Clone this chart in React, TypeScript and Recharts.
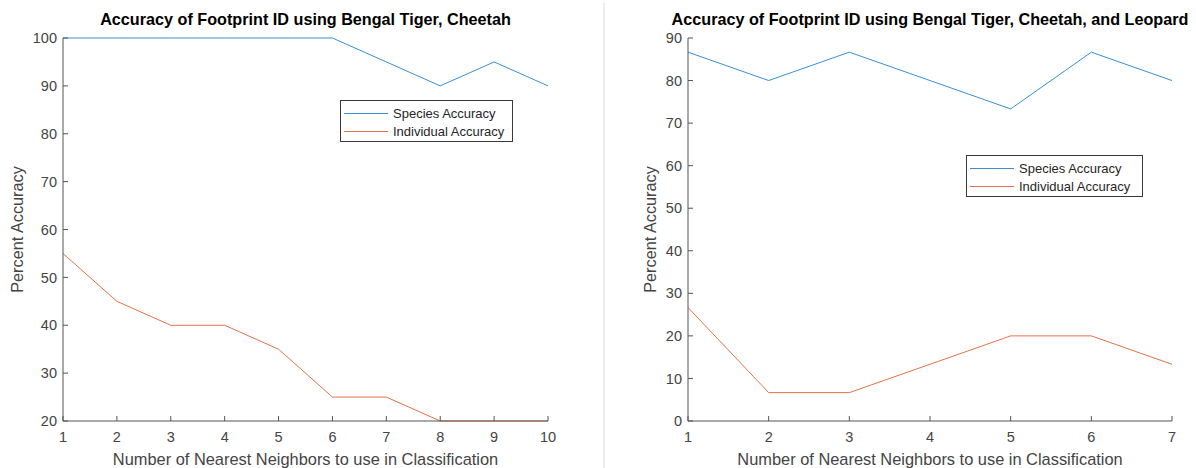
import { LineChart, Line, XAxis, YAxis } from 'recharts';

// left panel: Bengal Tiger + Cheetah
const neighborsLeft = [1, 2, 3, 4, 5, 6, 7, 8, 9, 10];
const speciesLeft = [100, 100, 100, 100, 100, 100, 95, 90, 95, 90];
const individualLeft = [55, 45, 40, 40, 35, 25, 25, 20, 20, 20];
const yTicksLeft = [20, 30, 40, 50, 60, 70, 80, 90, 100];

// right panel: Bengal Tiger + Cheetah + Leopard
const neighborsRight = [1, 2, 3, 4, 5, 6, 7];
const speciesRight = [86.67, 80, 86.67, 80, 73.33, 86.67, 80];
const individualRight = [26.67, 6.67, 6.67, 13.33, 20, 20, 13.33];
const yTicksRight = [0, 10, 20, 30, 40, 50, 60, 70, 80, 90];

const seriesNames = ['Species Accuracy', 'Individual Accuracy'];

const FONT = '"Liberation Sans", Arial, Helvetica, sans-serif';
const AXIS = '#555555';
const TEXT = '#444444';
const BLUE = '#3a8fd3';
const ORANGE = '#e5714a';

const xLabel = 'Number of Nearest Neighbors to use in Classification';
const yLabel = 'Percent Accuracy';

const W = 598;
const H = 468;
const PLOT_TOP = 38;
const PLOT_BOTTOM = 421;

type PanelProps = {
  title: string;
  x: number[];
  species: number[];
  individual: number[];
  yTicks: number[];
  marginLeft: number;
  marginRight: number;
  legendLeft: number;
  legendTop: number;
  legendWidth: number;
  yLabelX: number;
};

// MATLAB-style boxed legend, kept outside the chart so it doesn't shrink the plot
function LegendBox({ left, top, width }: { left: number; top: number; width: number }) {
  const colors = [BLUE, ORANGE];
  return (
    <svg style={{ position: 'absolute', left, top }} width={width} height={42}>
      <rect x={0.5} y={0.5} width={width - 1} height={41} fill="#fff" stroke="#3a3a3a" strokeWidth={1} />
      {seriesNames.map((name, i) => {
        const cy = 13 + i * 18;
        return (
          <g key={name}>
            <line x1={4} x2={48} y1={cy + 0.5} y2={cy + 0.5} stroke={colors[i]} strokeWidth={1} />
            <text x={53} y={cy + 5} fontSize={13} fontFamily={FONT} fill="#262626">
              {name}
            </text>
          </g>
        );
      })}
    </svg>
  );
}

function Panel(p: PanelProps) {
  const data = p.x.map((n, i) => ({ n, species: p.species[i], individual: p.individual[i] }));
  const yMin = p.yTicks[0];
  const yMax = p.yTicks[p.yTicks.length - 1];
  const plotCenter = p.marginLeft + 40 + (W - p.marginLeft - 40 - p.marginRight) / 2;
  const plotMid = (PLOT_TOP + PLOT_BOTTOM) / 2;
  return (
    <div style={{ position: 'relative', width: W, height: H }}>
      <LineChart
        width={W}
        height={H}
        data={data}
        margin={{ top: PLOT_TOP, right: p.marginRight, bottom: H - PLOT_BOTTOM - 30, left: p.marginLeft }}
      >
        <XAxis
          dataKey="n"
          type="number"
          domain={[p.x[0], p.x[p.x.length - 1]]}
          ticks={p.x}
          interval={0}
          height={30}
          tickSize={-5}
          tickMargin={16}
          stroke={AXIS}
          tick={{ fill: TEXT, fontSize: 14.5, fontFamily: FONT }}
        />
        <YAxis
          type="number"
          domain={[yMin, yMax]}
          ticks={p.yTicks}
          interval={0}
          width={40}
          tickSize={-5}
          tickMargin={11}
          stroke={AXIS}
          tick={{ fill: TEXT, fontSize: 14.5, fontFamily: FONT }}
        />
        <Line dataKey="species" name={seriesNames[0]} stroke={BLUE} strokeWidth={1} dot={false} type="linear" isAnimationActive={false} />
        <Line dataKey="individual" name={seriesNames[1]} stroke={ORANGE} strokeWidth={1} dot={false} type="linear" isAnimationActive={false} />
        <text x={plotCenter} y={25} textAnchor="middle" fontSize={16.2} fontWeight="bold" fontFamily={FONT} fill="#000">
          {p.title}
        </text>
        <text x={plotCenter} y={465} textAnchor="middle" fontSize={16.4} fontFamily={FONT} fill={TEXT}>
          {xLabel}
        </text>
        <text
          x={p.yLabelX}
          y={plotMid}
          transform={`rotate(-90 ${p.yLabelX} ${plotMid})`}
          textAnchor="middle"
          fontSize={16.3}
          fontFamily={FONT}
          fill={TEXT}
        >
          {yLabel}
        </text>
      </LineChart>
      <LegendBox left={p.legendLeft} top={p.legendTop} width={p.legendWidth} />
    </div>
  );
}

export default function App() {
  return (
    <div style={{ position: 'absolute', left: 0, top: 0, width: 1196, height: H, background: '#fff', overflow: 'hidden' }}>
      <div style={{ position: 'absolute', left: 0, top: 0 }}>
        <Panel
          title="Accuracy of Footprint ID using Bengal Tiger, Cheetah"
          x={neighborsLeft}
          species={speciesLeft}
          individual={individualLeft}
          yTicks={yTicksLeft}
          marginLeft={23}
          marginRight={50}
          legendLeft={340}
          legendTop={100}
          legendWidth={173}
          yLabelX={23}
        />
      </div>
      <div style={{ position: 'absolute', left: 603, top: 3, width: 2, height: 465, background: '#ececec' }} />
      <div style={{ position: 'absolute', left: 598, top: 0 }}>
        <Panel
          title="Accuracy of Footprint ID using Bengal Tiger, Cheetah, and Leopard"
          x={neighborsRight}
          species={speciesRight}
          individual={individualRight}
          yTicks={yTicksRight}
          marginLeft={50}
          marginRight={24}
          legendLeft={368}
          legendTop={155}
          legendWidth={177}
          yLabelX={58}
        />
      </div>
    </div>
  );
}
